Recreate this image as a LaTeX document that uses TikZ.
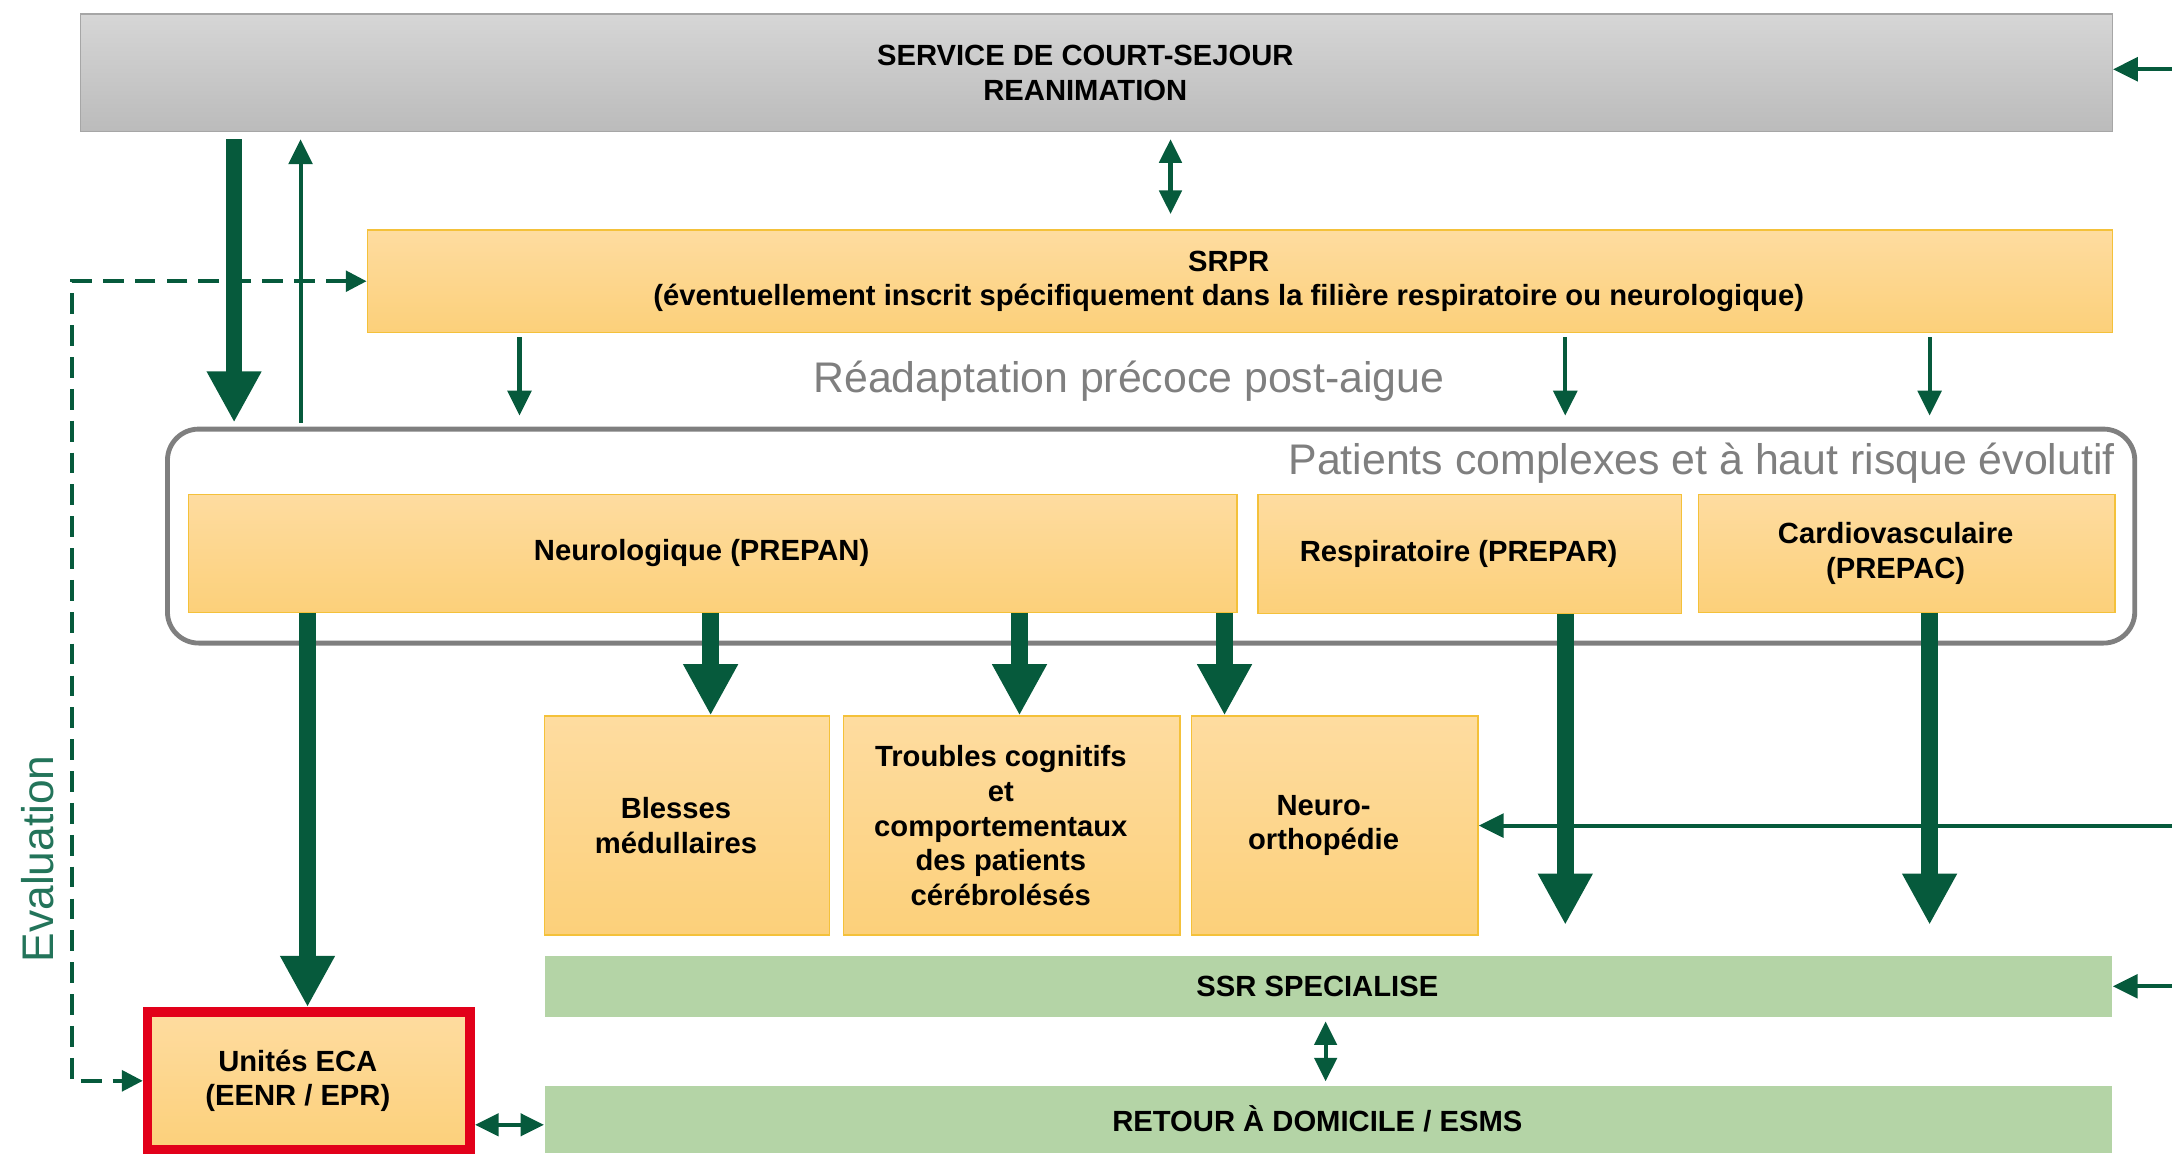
\documentclass[tikz,border=0pt]{standalone}
\usepackage{fontspec}
\setmainfont{Liberation Sans}
\usetikzlibrary{arrows.meta}
\definecolor{gtop}{HTML}{D6D6D6}
\definecolor{gbot}{HTML}{BBBBBB}
\definecolor{gbord}{HTML}{A6A6A6}
\definecolor{otop}{HTML}{FEDCA0}
\definecolor{obot}{HTML}{FCD07A}
\definecolor{obord}{HTML}{F4C13A}
\definecolor{vert}{HTML}{B4D4A6}
\definecolor{agreen}{HTML}{065A3C}
\definecolor{evgreen}{HTML}{23745A}
\definecolor{lgray}{HTML}{7F7F7F}
\definecolor{ecared}{HTML}{E2001A}

\begin{document}
\begin{tikzpicture}[x=0.02cm,y=-0.02cm,
   txt/.style={align=center,inner sep=2pt,font=\bfseries\fontsize{12}{14.2}\selectfont},
   tx/.style={label={[txt,xshift=-0.16cm]center:{#1}}},
   gbox/.style={draw=gbord,line width=0.6pt,top color=gtop,bottom color=gbot},
   obox/.style={draw=obord,line width=0.6pt,top color=otop,bottom color=obot},
   vbox/.style={fill=vert},
   lbl/.style={inner sep=0pt,text=lgray,font=\fontsize{17.6}{20}\selectfont},
   fl/.style={-{Triangle[width=0.34cm,length=0.36cm]},line width=0.06cm,draw=agreen},
   dfl/.style={{Triangle[width=0.32cm,length=0.34cm]}-{Triangle[width=0.32cm,length=0.34cm]},line width=0.06cm,draw=agreen},
   grfl/.style={-{Triangle[width=0.74cm,length=0.74cm]},line width=0.24cm,draw=agreen},
   dsh/.style={{Triangle[width=0.3cm,length=0.3cm]}-{Triangle[width=0.3cm,length=0.3cm]},line width=0.05cm,draw=agreen,dash pattern=on 0.3cm off 0.16cm}]
   \useasboundingbox (0,0) rectangle (1568,833);
   \clip (0,0) rectangle (1568,833);

   \node[gbox,minimum width=29.34cm,minimum height=1.70cm,tx={SERVICE DE COURT-SEJOUR\\REANIMATION}] (sejour) at (791.5,52.5) {};
   \node[obox,minimum width=25.2cm,minimum height=1.48cm,tx={SRPR\\(éventuellement inscrit spécifiquement dans la filière respiratoire ou neurologique)}] (srpr) at (895,203) {};
   \node[lbl] (readapt) at (815,275) {Réadaptation précoce post-aigue};

   \node[draw=lgray,line width=0.07cm,rounded corners=0.45cm,minimum width=28.41cm,minimum height=3.09cm] (patients) at (831,387) {};
   \node[lbl,anchor=east] (ptlbl) at (1527,334) {Patients complexes et à haut risque évolutif};
   \node[obox,minimum width=15.14cm,minimum height=1.70cm,tx={Neurologique (PREPAN)}] (neuro) at (514.5,399.5) {};
   \node[obox,minimum width=6.12cm,minimum height=1.72cm,tx={Respiratoire (PREPAR)}] (resp) at (1061,400) {};
   \node[obox,minimum width=6.02cm,minimum height=1.70cm,tx={Cardiovasculaire\\(PREPAC)}] (cardio) at (1376.5,399.5) {};

   \node[obox,minimum width=4.12cm,minimum height=3.16cm,tx={Blesses\\médullaires}] (blesses) at (496,596) {};
   \node[obox,minimum width=4.86cm,minimum height=3.16cm,tx={Troubles cognitifs\\et\\comportementaux\\des patients\\cérébrolésés}] (troubles) at (730.5,596) {};
   \node[obox,minimum width=4.14cm,minimum height=3.16cm,tx={Neuro-\\orthopédie}] (ortho) at (963.5,596) {};

   \node[vbox,minimum width=22.64cm,minimum height=0.88cm,tx={SSR SPECIALISE}] (ssr) at (959,712) {};
   \node[vbox,minimum width=22.64cm,minimum height=0.96cm,tx={RETOUR À DOMICILE / ESMS}] (retour) at (959,808) {};
   \node[obox,draw=ecared,line width=0.14cm,minimum width=4.66cm,minimum height=1.99cm,tx={Unités ECA\\(EENR / EPR)}] (eca) at (223,780.25) {};

   \node[lbl,text=evgreen,rotate=90,font=\fontsize{18.2}{20}\selectfont] (eval) at (27,620) {Evaluation};

   % evaluation
   \draw[dsh] (srpr.west) -| (52,500) |- (eca.west);

   % entrees a droite
   \coordinate (inA) at (1568,50);
   \coordinate (inB) at (1568,596);
   \coordinate (inC) at (1568,712);
   \draw[fl] (inA) -- (inA -| sejour.east);
   \draw[fl] (inB) -- (inB -| ortho.east);
   \draw[fl] (inC) -- (inC -| ssr.east);

   \draw[grfl,shorten <=0.1cm,shorten >=0.06cm] (sejour.south -| 169,0) -- (patients.north -| 169,0);
   \draw[fl,shorten <=0.06cm,shorten >=0.1cm] (patients.north -| 217,0) -- (sejour.south -| 217,0);
   \draw[dfl,shorten <=0.1cm,shorten >=0.22cm] (sejour.south -| 845,0) -- (srpr.north -| 845,0);
   \foreach \x in {375,1130,1393}
      \draw[fl,shorten <=0.06cm,shorten >=0.16cm] (srpr.south -| \x,0) -- (patients.north -| \x,0);

   \draw[grfl] (neuro.south -| 222,0) -- (eca.north -| 222,0);
   \foreach \x/\n in {513/blesses,736/troubles,884/ortho}
      \draw[grfl] (neuro.south -| \x,0) -- (\n.north -| \x,0);
   \foreach \n/\x in {resp/1130,cardio/1393}
      \draw[grfl,shorten >=0.44cm] (\n.south -| \x,0) -- (ssr.north -| \x,0);

   \draw[dfl,shorten <=0.06cm,shorten >=0.06cm] (ssr.south -| 957,0) -- (retour.north -| 957,0);
   \draw[dfl] (eca.east |- 0,812) -- (retour.west |- 0,812);
\end{tikzpicture}
\end{document}
